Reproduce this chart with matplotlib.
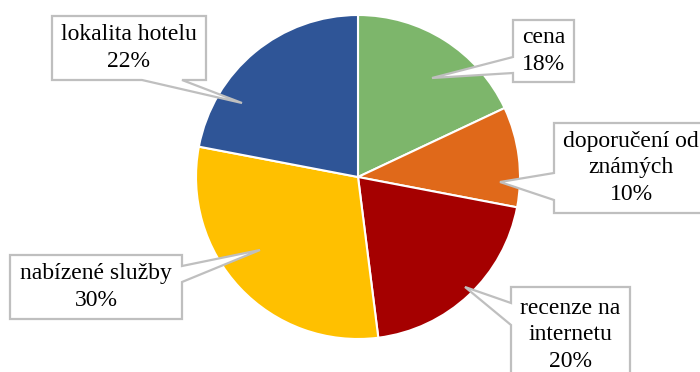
import matplotlib
matplotlib.use("Agg")
import matplotlib.pyplot as plt
from matplotlib.patches import Polygon

categories = ["cena", "doporučení od\nznámých", "recenze na\ninternetu", "nabízené služby", "lokalita hotelu"]
values = [18, 10, 20, 30, 22]
colors = ["#7DB66B", "#E0691A", "#A50000", "#FFC000", "#2F5597"]

# callout layout (pixel coords, y down): box (x0, y0, x1, y1), wedge side, wedge base, tip, text centre
boxes = [(513, 20, 574, 82), (554, 123, 712, 213), (511, 287, 630, 384), (10, 255, 182, 319), (52, 16, 206, 80)]
sides = ["left", "left", "left", "right", "bottom"]
bases = [(57, 73), (173, 200), (303, 325), (266, 282), (142, 182)]
tips = [(432, 78), (500, 182), (465, 287), (260, 250), (242, 103)]
text_centres = [(543.5, 51), (631, 168), (570.5, 335), (96, 287), (129, 48)]

W, H = 700, 372
plt.rcParams['font.family'] = ['Liberation Serif', 'DejaVu Serif']
fig = plt.figure(figsize=(W / 100, H / 100), dpi=100)
ax = fig.add_axes([0, 0, 1, 1])

cx, cy, r = 358, 177, 162
ax.pie(values, colors=colors, startangle=90, counterclock=False,
       center=(cx, H - cy), radius=r,
       wedgeprops=dict(edgecolor='white', linewidth=1.5))
ax.set_xlim(0, W)
ax.set_ylim(0, H)
ax.set_aspect('equal')
ax.axis('off')


def callout(box, side, base, tip):
    x0, y0, x1, y1 = box
    a, b = base
    if side == "top":
        pts = [(x0, y0), (a, y0), tip, (b, y0), (x1, y0), (x1, y1), (x0, y1)]
    elif side == "right":
        pts = [(x0, y0), (x1, y0), (x1, a), tip, (x1, b), (x1, y1), (x0, y1)]
    elif side == "bottom":
        pts = [(x0, y0), (x1, y0), (x1, y1), (b, y1), tip, (a, y1), (x0, y1)]
    else:
        pts = [(x0, y0), (x1, y0), (x1, y1), (x0, y1), (x0, b), tip, (x0, a)]
    return [(x, H - y) for x, y in pts]


for cat, v, box, side, base, tip, (tx, ty) in zip(categories, values, boxes, sides, bases, tips, text_centres):
    poly = Polygon(callout(box, side, base, tip), closed=True, fc='white', ec='#BFBFBF',
                   lw=1.6, joinstyle='miter', zorder=5, clip_on=False)
    ax.add_patch(poly)
    ax.text(tx, H - ty, f"{cat}\n{v}%", ha='center', va='center', fontsize=17,
            color='black', linespacing=1.33, zorder=6)

fig.savefig("out.png", dpi=100)
